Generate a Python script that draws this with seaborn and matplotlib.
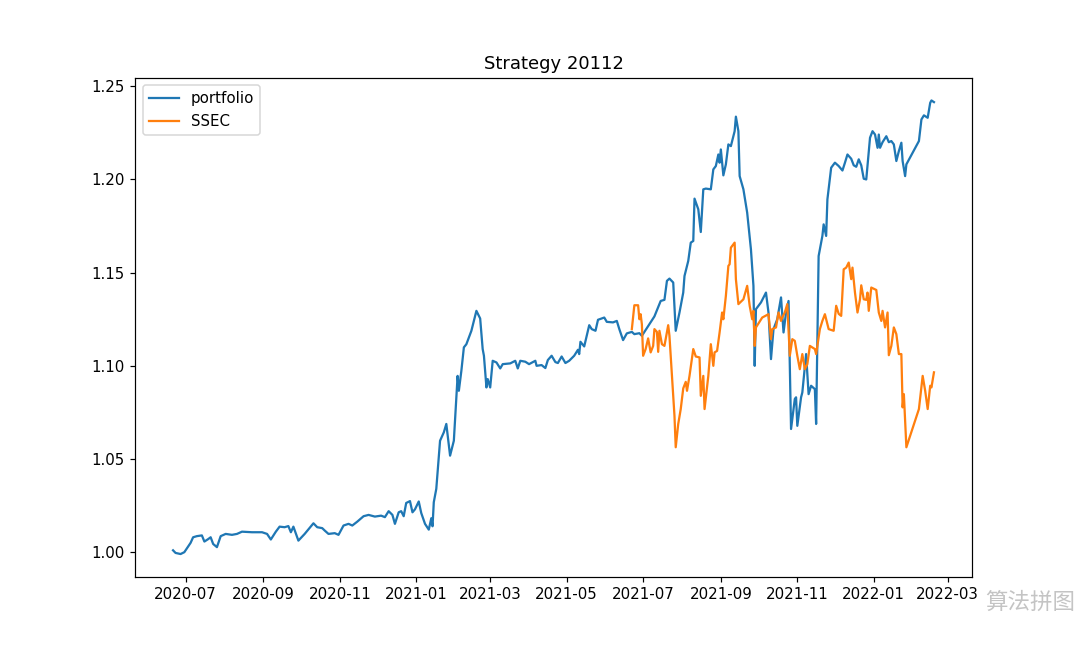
import pandas as pd
import matplotlib
matplotlib.use("Agg")
import matplotlib.pyplot as plt
import matplotlib.dates as mdates
import seaborn as sns

# day offsets are counted from 2020-07-01
base_date = "2020-07-01"

port_days = [-10, -8, -4, -1, 1, 4, 6, 9, 13, 15,
             18, 20, 22, 25, 28, 32, 37, 41, 45, 53,
             61, 65, 68, 72, 75, 79, 82, 84, 86, 90,
             95, 102, 105, 109, 111, 114, 119, 122, 126, 130,
             133, 137, 142, 146, 151, 156, 159, 162, 165, 167,
             170, 172, 174, 176, 179, 181, 183, 186, 188, 191,
             194, 196, 197, 198, 200, 203, 206, 208, 211, 214,
             217, 218, 220, 222, 224, 228, 232, 235, 237, 238,
             240, 241, 243, 245, 248, 251, 253, 259, 263, 265,
             267, 271, 274, 279, 280, 284, 287, 289, 292, 295,
             297, 300, 303, 306, 310, 313, 314, 315, 318, 322,
             324, 327, 329, 334, 336, 341, 344, 346, 349, 352,
             356, 358, 362, 364, 366, 370, 374, 379, 382, 384,
             386, 389, 391, 394, 397, 398, 401, 403, 405, 406,
             409, 411, 413, 415, 419, 421, 423, 425, 426, 427,
             429, 431, 433, 435, 438, 439, 441, 442, 445, 448,
             451, 453, 454, 455, 459, 463, 465, 467, 469, 472,
             475, 477, 479, 481, 483, 486, 487, 488, 491, 492,
             495, 497, 499, 502, 503, 505, 508, 509, 511, 512,
             515, 518, 521, 524, 526, 528, 531, 533, 535, 537,
             539, 541, 543, 546, 548, 550, 552, 553, 554, 556,
             559, 561, 563, 565, 567, 569, 571, 572, 574, 575,
             585, 587, 589, 592, 594, 595, 597]

portfolio = [1.001, 0.9996, 0.999, 1.000, 1.002, 1.005, 1.008, 1.0086, 1.009, 1.0057,
             1.007, 1.008, 1.0044, 1.0027, 1.0086, 1.0098, 1.0093, 1.0098, 1.011, 1.0107,
             1.0107, 1.0098, 1.0068, 1.011, 1.0137, 1.0134, 1.014, 1.0107, 1.0137, 1.0062,
             1.0098, 1.0155, 1.0134, 1.0129, 1.0116, 1.0098, 1.0102, 1.0093, 1.0143, 1.0152,
             1.0143, 1.0164, 1.0193, 1.02, 1.0191, 1.0196, 1.0188, 1.022, 1.02, 1.0152,
             1.0214, 1.022, 1.0193, 1.0264, 1.0274, 1.0214, 1.023, 1.0272, 1.021, 1.0152,
             1.0121, 1.0182, 1.0139, 1.0268, 1.034, 1.0598, 1.0643, 1.0688, 1.0518, 1.0598,
             1.0946, 1.0866, 1.0973, 1.1099, 1.1116, 1.1188, 1.1295, 1.1254, 1.109, 1.1054,
             1.0884, 1.0929, 1.0884, 1.1027, 1.1018, 1.0986, 1.1009, 1.1013, 1.1027, 1.0986,
             1.1027, 1.1022, 1.1009, 1.1027, 1.1, 1.1004, 1.0988, 1.1031, 1.1054, 1.102,
             1.1015, 1.105, 1.1015, 1.1027, 1.1054, 1.1086, 1.1063, 1.1129, 1.1104, 1.1218,
             1.1197, 1.1188, 1.1247, 1.1259, 1.1236, 1.1233, 1.1241, 1.1197, 1.1138, 1.1174,
             1.1182, 1.117, 1.1175, 1.1161, 1.1182, 1.1223, 1.1265, 1.1348, 1.1354, 1.1456,
             1.1468, 1.1447, 1.1188, 1.1286, 1.1393, 1.1482, 1.1563, 1.1661, 1.167, 1.1897,
             1.184, 1.1718, 1.1947, 1.1951, 1.1947, 1.2054, 1.2072, 1.2134, 1.209, 1.2161,
             1.2022, 1.2081, 1.2188, 1.2179, 1.2259, 1.2337, 1.2259, 1.2018, 1.1947, 1.1822,
             1.1625, 1.1429, 1.1, 1.1304, 1.134, 1.1393, 1.1286, 1.1036, 1.1197, 1.125,
             1.1367, 1.1179, 1.1286, 1.1348, 1.0661, 1.0822, 1.0831, 1.0678, 1.0831, 1.0857,
             1.1063, 1.0848, 1.0893, 1.0875, 1.0688, 1.1589, 1.1697, 1.1759, 1.1697, 1.1893,
             1.2063, 1.209, 1.2072, 1.2048, 1.209, 1.2134, 1.2111, 1.2076, 1.2068, 1.2108,
             1.2076, 1.2004, 1.2, 1.2224, 1.2259, 1.2241, 1.217, 1.2241, 1.217, 1.22,
             1.2232, 1.22, 1.2206, 1.2188, 1.2099, 1.2152, 1.2197, 1.2099, 1.2018, 1.2081,
             1.2206, 1.2322, 1.2344, 1.2331, 1.2411, 1.2424, 1.2415]

ssec_days = [356, 358, 361, 362, 363, 364, 365, 367, 369, 371,
             373, 374, 376, 377, 378, 380, 382, 385, 386, 388,
             390, 391, 393, 395, 397, 399, 400, 402, 405, 407,
             410, 411, 413, 414, 417, 419, 421, 422, 424, 426,
             428, 429, 431, 433, 434, 435, 438, 439, 441, 445,
             448, 450, 452, 453, 454, 455, 460, 465, 467, 468,
             471, 473, 475, 476, 478, 480, 482, 484, 486, 488,
             490, 492, 494, 496, 498, 502, 503, 506, 508, 510,
             513, 517, 519, 521, 523, 525, 527, 529, 531, 532,
             534, 536, 538, 539, 541, 543, 544, 545, 547, 551,
             553, 555, 556, 558, 560, 561, 563, 565, 567, 569,
             571, 572, 573, 575, 585, 588, 590, 592, 594, 595,
             597]

ssec = [1.1197, 1.1325, 1.1325, 1.125, 1.1277, 1.1223, 1.1054, 1.109, 1.1147, 1.1072,
        1.1107, 1.1197, 1.1182, 1.1075, 1.1188, 1.1116, 1.1107, 1.1218, 1.1161, 1.0946,
        1.0732, 1.0563, 1.0688, 1.0768, 1.0879, 1.0914, 1.0866, 1.0946, 1.109, 1.105,
        1.1045, 1.0839, 1.0946, 1.0768, 1.0946, 1.1116, 1.1, 1.1072, 1.108, 1.1179,
        1.1286, 1.125, 1.1375, 1.1536, 1.1545, 1.1634, 1.1661, 1.1465, 1.1331, 1.1357,
        1.1429, 1.1322, 1.125, 1.1295, 1.1107, 1.1206, 1.1259, 1.1277, 1.1143, 1.1197,
        1.1206, 1.1286, 1.1241, 1.1259, 1.1286, 1.1331, 1.1054, 1.1143, 1.1134, 1.1054,
        1.0982, 1.1063, 1.0982, 1.1009, 1.1107, 1.109, 1.1063, 1.1197, 1.1241, 1.1277,
        1.1197, 1.1188, 1.1322, 1.1279, 1.1268, 1.1518, 1.1527, 1.1554, 1.1465, 1.1527,
        1.1393, 1.1286, 1.1357, 1.1432, 1.1357, 1.1354, 1.1393, 1.1295, 1.142, 1.1407,
        1.1286, 1.1241, 1.1295, 1.1206, 1.1286, 1.1057, 1.1107, 1.1206, 1.117, 1.1063,
        1.1063, 1.0777, 1.0848, 1.0563, 1.0768, 1.0946, 1.0866, 1.0768, 1.0893, 1.0884,
        1.0965]

base = pd.Timestamp(base_date)
port_df = pd.DataFrame({"date": base + pd.to_timedelta(port_days, unit="D"), "value": portfolio})
ssec_df = pd.DataFrame({"date": base + pd.to_timedelta(ssec_days, unit="D"), "value": ssec})

fig, ax = plt.subplots(figsize=(10, 6), dpi=108)
sns.lineplot(data=port_df, x="date", y="value", label="portfolio", ax=ax)
sns.lineplot(data=ssec_df, x="date", y="value", label="SSEC", ax=ax)

ax.xaxis.set_major_locator(mdates.MonthLocator(bymonth=[1, 3, 5, 7, 9, 11]))
ax.xaxis.set_major_formatter(mdates.DateFormatter("%Y-%m"))
ax.set_xlabel("")
ax.set_ylabel("")
ax.set_title("Strategy 20112")
ax.legend(loc="upper left")

# watermark, kept just right of the last tick label
fig.text(0.912, 0.06, "算法拼图", fontsize=15, color="#c4c4c4",
         family=["Noto Sans CJK SC", "DejaVu Sans"])

plt.savefig("out.png", dpi=108)
